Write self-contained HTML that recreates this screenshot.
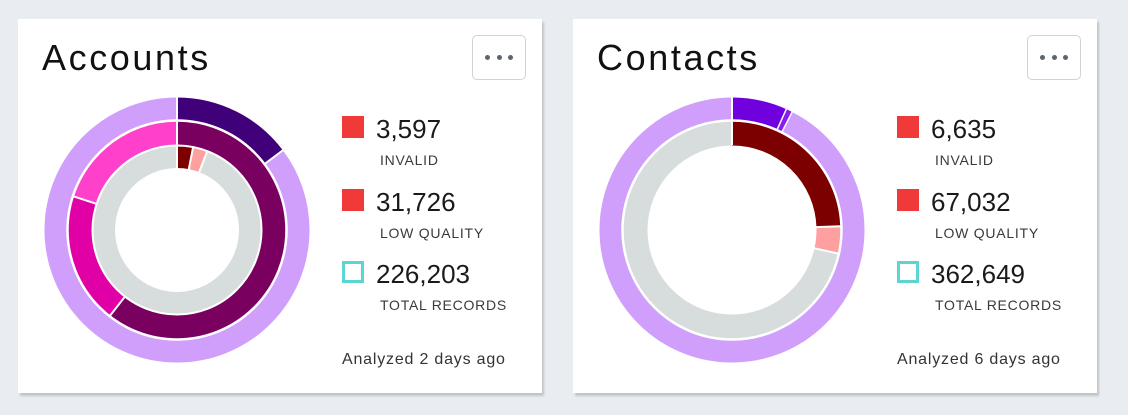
<!DOCTYPE html>
<html>
<head>
<meta charset="utf-8">
<style>
  html,body{margin:0;padding:0;}
  body{width:1128px;height:415px;background:#e9ecf0;position:relative;overflow:hidden;font-family:"Liberation Sans",sans-serif;}
  .card{position:absolute;top:19px;width:524px;height:374px;background:#fff;box-shadow:2px 3px 2px rgba(0,0,0,0.17);}
  .title{position:absolute;left:24px;top:21px;font-size:36px;line-height:36px;color:#111;letter-spacing:2.6px;white-space:nowrap;}
  .btn{position:absolute;left:454px;top:16px;width:52px;height:43px;border:1px solid #d0d3d6;border-radius:5px;background:#fff;}
  .dot{position:absolute;top:19px;width:5px;height:5px;border-radius:50%;background:#5b6670;}
  .sq{position:absolute;left:324px;width:22px;height:22px;background:#f03a3a;}
  .sq.t{background:#fff;border:3px solid #5dd5d5;box-sizing:border-box;}
  .num{position:absolute;left:358px;font-size:26px;line-height:26px;color:#1a1a1a;white-space:nowrap;}
  .lbl{position:absolute;left:362px;font-size:14px;line-height:14px;color:#3a3a3a;letter-spacing:0.75px;white-space:nowrap;}
  .an{position:absolute;left:324px;top:333px;font-size:16px;line-height:16px;color:#333;letter-spacing:0.8px;white-space:nowrap;}
  svg{position:absolute;left:19px;top:71px;}
</style>
</head>
<body>

<div class="card" style="left:18px;">
  <div class="title">Accounts</div>
  <div class="btn"><div class="dot" style="left:12px"></div><div class="dot" style="left:23.5px"></div><div class="dot" style="left:35px"></div></div>
  <svg width="280" height="280" viewBox="0 0 280 280">
    <g fill="none" transform="rotate(-90 140 140)">
      <circle cx="140" cy="140" r="120.75" stroke="#3f0079" stroke-width="23.5" pathLength="360" stroke-dasharray="53 400" stroke-dashoffset="0"/>
      <circle cx="140" cy="140" r="120.75" stroke="#cf9ffb" stroke-width="23.5" pathLength="360" stroke-dasharray="307 400" stroke-dashoffset="-53"/>
      <circle cx="140" cy="140" r="96.75" stroke="#7a0060" stroke-width="24.5" pathLength="360" stroke-dasharray="218 400" stroke-dashoffset="0"/>
      <circle cx="140" cy="140" r="96.75" stroke="#e000a6" stroke-width="24.5" pathLength="360" stroke-dasharray="70 400" stroke-dashoffset="-218"/>
      <circle cx="140" cy="140" r="96.75" stroke="#ff40cb" stroke-width="24.5" pathLength="360" stroke-dasharray="72 400" stroke-dashoffset="-288"/>
      <circle cx="140" cy="140" r="73.25" stroke="#7c0000" stroke-width="22.5" pathLength="360" stroke-dasharray="11 400" stroke-dashoffset="0"/>
      <circle cx="140" cy="140" r="73.25" stroke="#ffa0a0" stroke-width="22.5" pathLength="360" stroke-dasharray="10 400" stroke-dashoffset="-11"/>
      <circle cx="140" cy="140" r="73.25" stroke="#d7dcdd" stroke-width="22.5" pathLength="360" stroke-dasharray="339 400" stroke-dashoffset="-21"/>
    </g>
    <circle cx="140" cy="140" r="109.5" fill="none" stroke="#fff" stroke-width="2.5"/>
    <circle cx="140" cy="140" r="84.5" fill="none" stroke="#fff" stroke-width="2"/>
    <g stroke="#fff" stroke-width="2">
      <line x1="140" y1="79" x2="140" y2="5"/>
      <line x1="140" y1="31" x2="140" y2="5" transform="rotate(53 140 140)"/>
      <line x1="140" y1="56" x2="140" y2="31" transform="rotate(218 140 140)"/>
      <line x1="140" y1="56" x2="140" y2="31" transform="rotate(288 140 140)"/>
      <line x1="140" y1="79" x2="140" y2="55" transform="rotate(11 140 140)"/>
      <line x1="140" y1="79" x2="140" y2="55" transform="rotate(21 140 140)"/>
    </g>
  </svg>
  <div class="sq" style="top:97px"></div>
  <div class="num" style="top:97px">3,597</div>
  <div class="lbl" style="top:134px">INVALID</div>
  <div class="sq" style="top:170px"></div>
  <div class="num" style="top:169.5px">31,726</div>
  <div class="lbl" style="top:206.5px">LOW QUALITY</div>
  <div class="sq t" style="top:242px"></div>
  <div class="num" style="top:242px">226,203</div>
  <div class="lbl" style="top:279px">TOTAL RECORDS</div>
  <div class="an">Analyzed 2 days ago</div>
</div>

<div class="card" style="left:573px;">
  <div class="title">Contacts</div>
  <div class="btn"><div class="dot" style="left:12px"></div><div class="dot" style="left:23.5px"></div><div class="dot" style="left:35px"></div></div>
  <svg width="280" height="280" viewBox="0 0 280 280">
    <g fill="none" transform="rotate(-90 140 140)">
      <circle cx="140" cy="140" r="120.75" stroke="#7000de" stroke-width="23.5" pathLength="360" stroke-dasharray="24.2 400" stroke-dashoffset="0"/>
      <circle cx="140" cy="140" r="120.75" stroke="#8a1cf0" stroke-width="23.5" pathLength="360" stroke-dasharray="2.8 400" stroke-dashoffset="-24.2"/>
      <circle cx="140" cy="140" r="120.75" stroke="#cf9ffb" stroke-width="23.5" pathLength="360" stroke-dasharray="333 400" stroke-dashoffset="-27"/>
      <circle cx="140" cy="140" r="96.75" stroke="#7c0000" stroke-width="24.5" pathLength="360" stroke-dasharray="88 400" stroke-dashoffset="0"/>
      <circle cx="140" cy="140" r="96.75" stroke="#ffa0a0" stroke-width="24.5" pathLength="360" stroke-dasharray="14.5 400" stroke-dashoffset="-88"/>
      <circle cx="140" cy="140" r="96.75" stroke="#d7dcdd" stroke-width="24.5" pathLength="360" stroke-dasharray="257.5 400" stroke-dashoffset="-102.5"/>
    </g>
    <circle cx="140" cy="140" r="109.5" fill="none" stroke="#fff" stroke-width="2.5"/>
    <g stroke="#fff" stroke-width="2">
      <line x1="140" y1="55" x2="140" y2="5"/>
      <line x1="140" y1="31" x2="140" y2="5" transform="rotate(24.2 140 140)" stroke-width="1.5"/>
      <line x1="140" y1="31" x2="140" y2="5" transform="rotate(27 140 140)" stroke-width="1.5"/>
      <line x1="140" y1="56" x2="140" y2="31" transform="rotate(88 140 140)"/>
      <line x1="140" y1="56" x2="140" y2="31" transform="rotate(102.5 140 140)"/>
    </g>
  </svg>
  <div class="sq" style="top:97px"></div>
  <div class="num" style="top:97px">6,635</div>
  <div class="lbl" style="top:134px">INVALID</div>
  <div class="sq" style="top:170px"></div>
  <div class="num" style="top:169.5px">67,032</div>
  <div class="lbl" style="top:206.5px">LOW QUALITY</div>
  <div class="sq t" style="top:242px"></div>
  <div class="num" style="top:242px">362,649</div>
  <div class="lbl" style="top:279px">TOTAL RECORDS</div>
  <div class="an">Analyzed 6 days ago</div>
</div>

</body>
</html>
